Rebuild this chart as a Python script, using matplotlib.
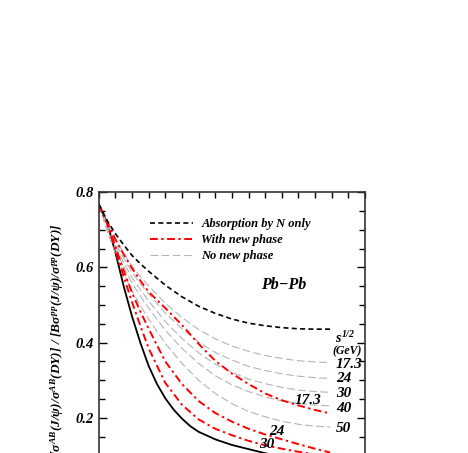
import matplotlib
matplotlib.use("Agg")
import matplotlib.pyplot as plt
from matplotlib.ticker import MultipleLocator, FormatStrFormatter

plt.rcParams['font.family'] = 'Liberation Serif'
plt.rcParams['font.weight'] = 'bold'
plt.rcParams['font.style'] = 'italic'
plt.rcParams['mathtext.fontset'] = 'custom'
plt.rcParams['mathtext.rm'] = 'Liberation Serif:bold:italic'
plt.rcParams['mathtext.it'] = 'Liberation Serif:bold:italic'
plt.rcParams['mathtext.bf'] = 'Liberation Serif:bold:italic'

# common abscissa of the dashed curves
x = [0, 0.5, 1, 1.5, 2, 2.5, 3, 4, 5, 6, 7, 8, 9, 10, 11, 12, 13, 13.9]

# absorption by nucleons only
absorption = [0.768, 0.725, 0.690, 0.660, 0.632, 0.610, 0.590, 0.553, 0.522, 0.497,
              0.478, 0.463, 0.452, 0.445, 0.440, 0.437, 0.436, 0.436]

# black solid curve
solid_x = [0, 0.5, 1, 1.5, 2, 2.5, 3, 3.5, 4, 4.5, 5, 5.5, 6, 7, 8, 9, 10, 11, 12, 13, 13.9]
solid = [0.768, 0.720, 0.640, 0.550, 0.470, 0.400, 0.338, 0.290, 0.252, 0.222, 0.198,
         0.178, 0.163, 0.143, 0.128, 0.117, 0.106, 0.097, 0.090, 0.085, 0.080]

# "with new phase" curves, by sqrt(s) in GeV
new_phase_labels = ['17.3', '24', '30']
new_phase = [
    [0.768, 0.722, 0.675, 0.635, 0.598, 0.565, 0.535, 0.492, 0.447, 0.397,
     0.352, 0.318, 0.290, 0.265, 0.247, 0.233, 0.221, 0.212],
    [0.768, 0.720, 0.655, 0.592, 0.533, 0.483, 0.437, 0.350, 0.290, 0.245,
     0.213, 0.190, 0.171, 0.156, 0.143, 0.130, 0.118, 0.108],
    [0.768, 0.718, 0.648, 0.575, 0.508, 0.445, 0.385, 0.293, 0.235, 0.196,
     0.171, 0.154, 0.139, 0.127, 0.118, 0.110, 0.103, 0.097],
]

# "no new phase" curves, by sqrt(s) in GeV
no_phase_labels = ['17.3', '24', '30', '40', '50']
no_phase = [
    [0.768, 0.718, 0.675, 0.638, 0.604, 0.576, 0.551, 0.505, 0.467, 0.435,
     0.410, 0.391, 0.377, 0.366, 0.358, 0.352, 0.349, 0.347],
    [0.768, 0.712, 0.666, 0.625, 0.587, 0.557, 0.530, 0.479, 0.437, 0.402,
     0.374, 0.354, 0.337, 0.326, 0.317, 0.311, 0.307, 0.305],
    [0.768, 0.708, 0.658, 0.613, 0.573, 0.541, 0.511, 0.456, 0.411, 0.373,
     0.343, 0.321, 0.303, 0.291, 0.281, 0.274, 0.270, 0.268],
    [0.768, 0.704, 0.650, 0.602, 0.559, 0.524, 0.492, 0.433, 0.385, 0.345,
     0.312, 0.288, 0.270, 0.256, 0.245, 0.238, 0.234, 0.232],
    [0.768, 0.697, 0.638, 0.585, 0.537, 0.499, 0.463, 0.398, 0.345, 0.300,
     0.265, 0.238, 0.217, 0.203, 0.191, 0.183, 0.178, 0.176],
]

fig = plt.figure(figsize=(4.68, 4.53), dpi=100)
# the frame runs off the bottom of the picture, as in the original
ax = fig.add_axes([0.211, -0.047, 0.569, 0.6225])

ax.plot(solid_x, solid, color='black', lw=1.3)
for ys in no_phase:
    ax.plot(x, ys, color='#b4b4b4', lw=0.8, dashes=(7, 3))
for ys in new_phase:
    ax.plot(x, ys, color='red', lw=1.4, dashes=(4, 1.8, 1.2, 1.8))
ax.plot(x, absorption, color='black', lw=1.2, dashes=(3, 2))

# legend
h1, = ax.plot([], [], color='black', lw=1.2, dashes=(3, 2))
h2, = ax.plot([], [], color='red', lw=1.4, dashes=(4, 1.8, 1.2, 1.8))
h3, = ax.plot([], [], color='#b4b4b4', lw=0.8, dashes=(7, 3))
ax.legend([h1, h2, h3], ['Absorption by N only', 'With new phase', 'No new phase'],
          loc='upper left', bbox_to_anchor=(0.193, 0.909), frameon=False,
          borderpad=0, borderaxespad=0, handlelength=3.4, handletextpad=0.7,
          labelspacing=0.33, prop={'family': 'Liberation Serif', 'weight': 'bold',
                                   'style': 'italic', 'size': 9})

ax.text(11.1, 0.553, 'Pb\u2212Pb', ha='center', va='center', fontsize=11.5)

# sqrt(s) labels
ax.text(14.2, 0.413, r'$s^{1/2}$', fontsize=10, ha='left', va='center', clip_on=False)
ax.text(14.05, 0.376, '(GeV)', fontsize=8.5, ha='left', va='center', clip_on=False)
no_phase_label_y = [0.341, 0.306, 0.266, 0.226, 0.173]
for lab, ly in zip(no_phase_labels, no_phase_label_y):
    ax.text(14.25, ly, lab, fontsize=11, ha='left', va='center', clip_on=False)
new_phase_label_x = [12.6, 10.7, 10.1]
new_phase_label_y = [0.247, 0.164, 0.128]
for lab, lx, ly in zip(new_phase_labels, new_phase_label_x, new_phase_label_y):
    ax.text(lx, ly, lab, fontsize=11, ha='center', va='center')

ax.set_xlim(0, 16)
ax.set_ylim(0.05, 0.8)
ax.yaxis.set_major_locator(MultipleLocator(0.2))
ax.yaxis.set_minor_locator(MultipleLocator(0.05))
ax.yaxis.set_major_formatter(FormatStrFormatter('%.1f'))
ax.xaxis.set_major_locator(MultipleLocator(2))
ax.xaxis.set_minor_locator(MultipleLocator(1))
ax.tick_params(which='both', direction='in', top=True, right=True, labelsize=10.5,
               width=1, labelbottom=False)
ax.tick_params(which='major', length=6)
ax.tick_params(which='minor', length=4)
ax.tick_params(axis='x', which='both', length=4)
for sp in ax.spines.values():
    sp.set_linewidth(1.2)
    sp.set_color('#333333')

fig.text(57 / 468, 1 - 223 / 453,
         r'$[\sigma^{AB}(J/\psi)/\sigma^{AB}(DY)]\ /\ [B\sigma^{pp}(J/\psi)/\sigma^{pp}(DY)]$',
         rotation=90, ha='center', va='top', fontsize=9.65)

fig.savefig('out.png', dpi=100)
